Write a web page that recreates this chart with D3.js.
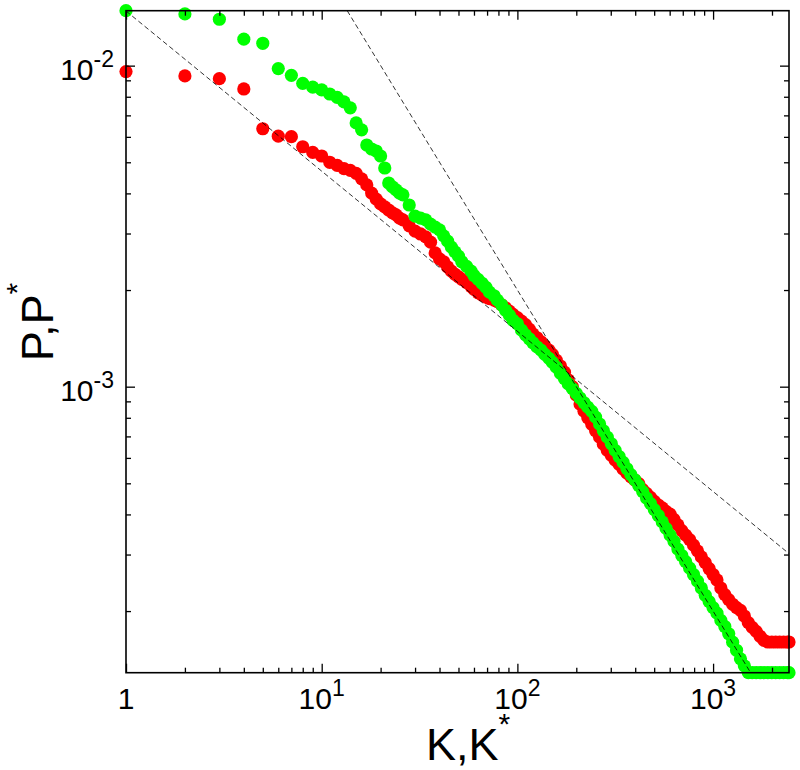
<!DOCTYPE html>
<html><head><meta charset="utf-8">
<script src="https://cdn.jsdelivr.net/npm/d3@7"></script>
<style>body{margin:0;background:#fff} svg{display:block}</style>
</head><body><svg id="c" width="800" height="770"></svg>
<script>
const ranks = [1,2,3,4,5,6,7,8,9,10,11,12,13,14,15,16,17,18,19,20,21,22,23,24,25,26,28,30,32,34,36,38,40,42,44,46,48,
50,52,55,58,60,63,66,69,72,76,79,83,87,91,95,100,105,110,115,120,126,132,138,145,151,158,166,174,182,191,
200,209,219,229,240,251,263,275,288,302,316,331,347,363,380,398,417,437,457,479,501,525,550,575,603,631,661,692,724,759,794,832,871,912,955,
1000,1047,1096,1148,1202,1259,1318,1380,1445,1514,1585,1660,1738,1820,1905,1995,2089,2188,2291,2399,2443];

const pRed = [0.00958,0.00929,0.00911,0.00846,0.00636,0.00603,0.00601,0.00559,0.00537,0.00523,0.00500,0.00489,0.00478,0.00472,0.00462,0.00444,0.00425,0.00401,0.00384,0.00371,0.00363,0.00355,0.00348,0.00343,0.00335,0.00331,0.00317,0.00305,0.00299,0.00293,0.00282,0.00261,0.00250,0.00245,0.00236,0.00229,0.00224,
0.00220,0.00216,0.00211,0.00205,0.00201,0.00196,0.00193,0.00190,0.00188,0.00186,0.00184,0.00180,0.00176,0.00172,0.00168,0.00164,0.00160,0.00156,0.00151,0.00146,0.00142,0.00138,0.00134,0.00130,0.00126,0.00121,0.00116,0.00111,0.00105,0.00100,
0.000942,0.000883,0.000839,0.000800,0.000764,0.000729,0.000696,0.000662,0.000634,0.000611,0.000591,0.000573,0.000554,0.000538,0.000524,0.000512,0.000499,0.000478,0.000465,0.000452,0.000439,0.000428,0.000419,0.000409,0.000401,0.000386,0.000371,0.000356,0.000345,0.000334,0.000321,0.000308,0.000295,0.000283,0.000271,
0.000260,0.000250,0.000236,0.000225,0.000217,0.000210,0.000205,0.000201,0.000193,0.000184,0.000178,0.000173,0.000167,0.000162,0.0001602,0.0001602,0.0001602,0.0001602,0.0001602,0.0001602,0.0001602];

const pGreen = [0.01483,0.01449,0.01395,0.01209,0.01174,0.00979,0.00933,0.00881,0.00857,0.00840,0.00816,0.00796,0.00771,0.00739,0.00663,0.00631,0.00566,0.00550,0.00542,0.00523,0.00480,0.00431,0.00419,0.00410,0.00401,0.00396,0.00368,0.00340,0.00335,0.00331,0.00321,0.00314,0.00308,0.00295,0.00284,0.00272,0.00263,
0.00255,0.00245,0.00237,0.00229,0.00222,0.00216,0.00210,0.00204,0.00197,0.00192,0.00186,0.00180,0.00173,0.00167,0.00161,0.00157,0.00150,0.00145,0.00141,0.00137,0.00133,0.00130,0.00126,0.001225,0.00119,0.00115,0.00110,0.00106,0.00102,0.000986,
0.000953,0.000922,0.000891,0.000864,0.000838,0.000804,0.000765,0.000729,0.000696,0.000664,0.000633,0.000606,0.000581,0.000555,0.000532,0.000513,0.000492,0.000471,0.000450,0.000432,0.000414,0.000397,0.000379,0.000362,0.000345,0.000330,0.000312,0.000298,0.000285,0.000272,0.000260,0.000248,0.000236,0.000224,0.000214,
0.000205,0.000197,0.000187,0.000179,0.000170,0.000160,0.000151,0.000142,0.000135,0.00012855,0.00012855,0.00012855,0.00012855,0.00012855,0.00012855,0.00012855,0.00012855,0.00012855,0.00012855,0.00012855,0.00012855];

const xMajorTicks = [1, 10, 100, 1000];
const xTickBase = ["1", "10", "10", "10"];
const xTickExp = ["", "1", "2", "3"];
const yMajorTicks = [0.01, 0.001];
const yTickBase = ["10", "10"];
const yTickExp = ["-2", "-3"];

const guideShallowK = [1, 2443];
const guideShallowP = [0.0148, 0.000302];
const guideSteepK = [13.5, 1555];
const guideSteepP = [0.01483, 0.00012855];

const xTitle = "K,K", xTitleSup = "*";
const yTitle = "P,P", yTitleSup = "*";

const FONT = "'Liberation Sans', Arial, Helvetica, sans-serif";
const L = 126, R = 789, T = 10.7, B = 672.7;

const svg = d3.select("#c");
const x = d3.scaleLog().domain([1, d3.max(ranks)]).range([L, R]);
const y = d3.scaleLog().domain(d3.extent(pRed.concat(pGreen))).range([B, T]);

const isMajor = v => Math.abs(Math.log10(v) - Math.round(Math.log10(v))) < 1e-6;

// data dots (red first, green on top)
const series = [{p: pRed, color: "#ff0000"}, {p: pGreen, color: "#00ff00"}];
series.forEach(s => {
  svg.append("g").selectAll("circle")
    .data(ranks.map((k, i) => [k, s.p[i]]))
    .join("circle")
    .attr("cx", d => x(d[0]))
    .attr("cy", d => y(d[1]))
    .attr("r", 6.6)
    .attr("fill", s.color);
});

// guide lines
const line = d3.line().x(d => x(d[0])).y(d => y(d[1]));
[[guideShallowK, guideShallowP], [guideSteepK, guideSteepP]].forEach(([ks, ps]) => {
  svg.append("path")
    .datum(ks.map((k, i) => [k, ps[i]]))
    .attr("d", line)
    .attr("fill", "none")
    .attr("stroke", "#000")
    .attr("stroke-width", 0.8)
    .attr("stroke-dasharray", "5,3");
});

// axes (ticks inside on all four sides)
const xMinor = x.ticks().filter(v => !isMajor(v));
const yMinor = y.ticks().filter(v => !isMajor(v));
function ax(gen, tr, vals, size) {
  const g = svg.append("g").attr("transform", tr)
    .call(gen.tickValues(vals).tickSize(-size).tickFormat(""));
  g.select(".domain").remove();
  g.selectAll("line").attr("stroke", "#000").attr("stroke-width", 1.3);
}
ax(d3.axisBottom(x), `translate(0,${B})`, xMajorTicks, 9);
ax(d3.axisBottom(x), `translate(0,${B})`, xMinor, 5);
ax(d3.axisTop(x), `translate(0,${T})`, xMajorTicks, 9);
ax(d3.axisTop(x), `translate(0,${T})`, xMinor, 5);
ax(d3.axisLeft(y), `translate(${L},0)`, yMajorTicks, 9);
ax(d3.axisLeft(y), `translate(${L},0)`, yMinor, 5);
ax(d3.axisRight(y), `translate(${R},0)`, yMajorTicks, 9);
ax(d3.axisRight(y), `translate(${R},0)`, yMinor, 5);

svg.append("rect").attr("x", L).attr("y", T).attr("width", R - L).attr("height", B - T)
  .attr("fill", "none").attr("stroke", "#000").attr("stroke-width", 1.6);

// tick labels
xMajorTicks.forEach((v, i) => {
  const t = svg.append("text").attr("x", x(v)).attr("y", 709)
    .attr("text-anchor", "middle").attr("font-family", FONT).attr("font-size", 30);
  t.append("tspan").text(xTickBase[i]);
  if (xTickExp[i]) t.append("tspan").attr("dy", -13).attr("font-size", 23).text(xTickExp[i]);
});
yMajorTicks.forEach((v, i) => {
  const t = svg.append("text").attr("x", 114).attr("y", y(v) + 14)
    .attr("text-anchor", "end").attr("font-family", FONT).attr("font-size", 30);
  t.append("tspan").text(yTickBase[i]);
  t.append("tspan").attr("dy", -13).attr("font-size", 23).text(yTickExp[i]);
});

// axis titles
const xt = svg.append("text").attr("x", 468).attr("y", 760)
  .attr("text-anchor", "middle").attr("font-family", FONT).attr("font-size", 45);
xt.append("tspan").text(xTitle);
xt.append("tspan").attr("dy", -26).attr("font-size", 30).text(xTitleSup);

const yt = svg.append("text").attr("transform", "translate(53,322) rotate(-90)")
  .attr("text-anchor", "middle").attr("font-family", FONT).attr("font-size", 45);
yt.append("tspan").text(yTitle);
yt.append("tspan").attr("dy", -26).attr("font-size", 30).text(yTitleSup);
</script>
</body></html>
